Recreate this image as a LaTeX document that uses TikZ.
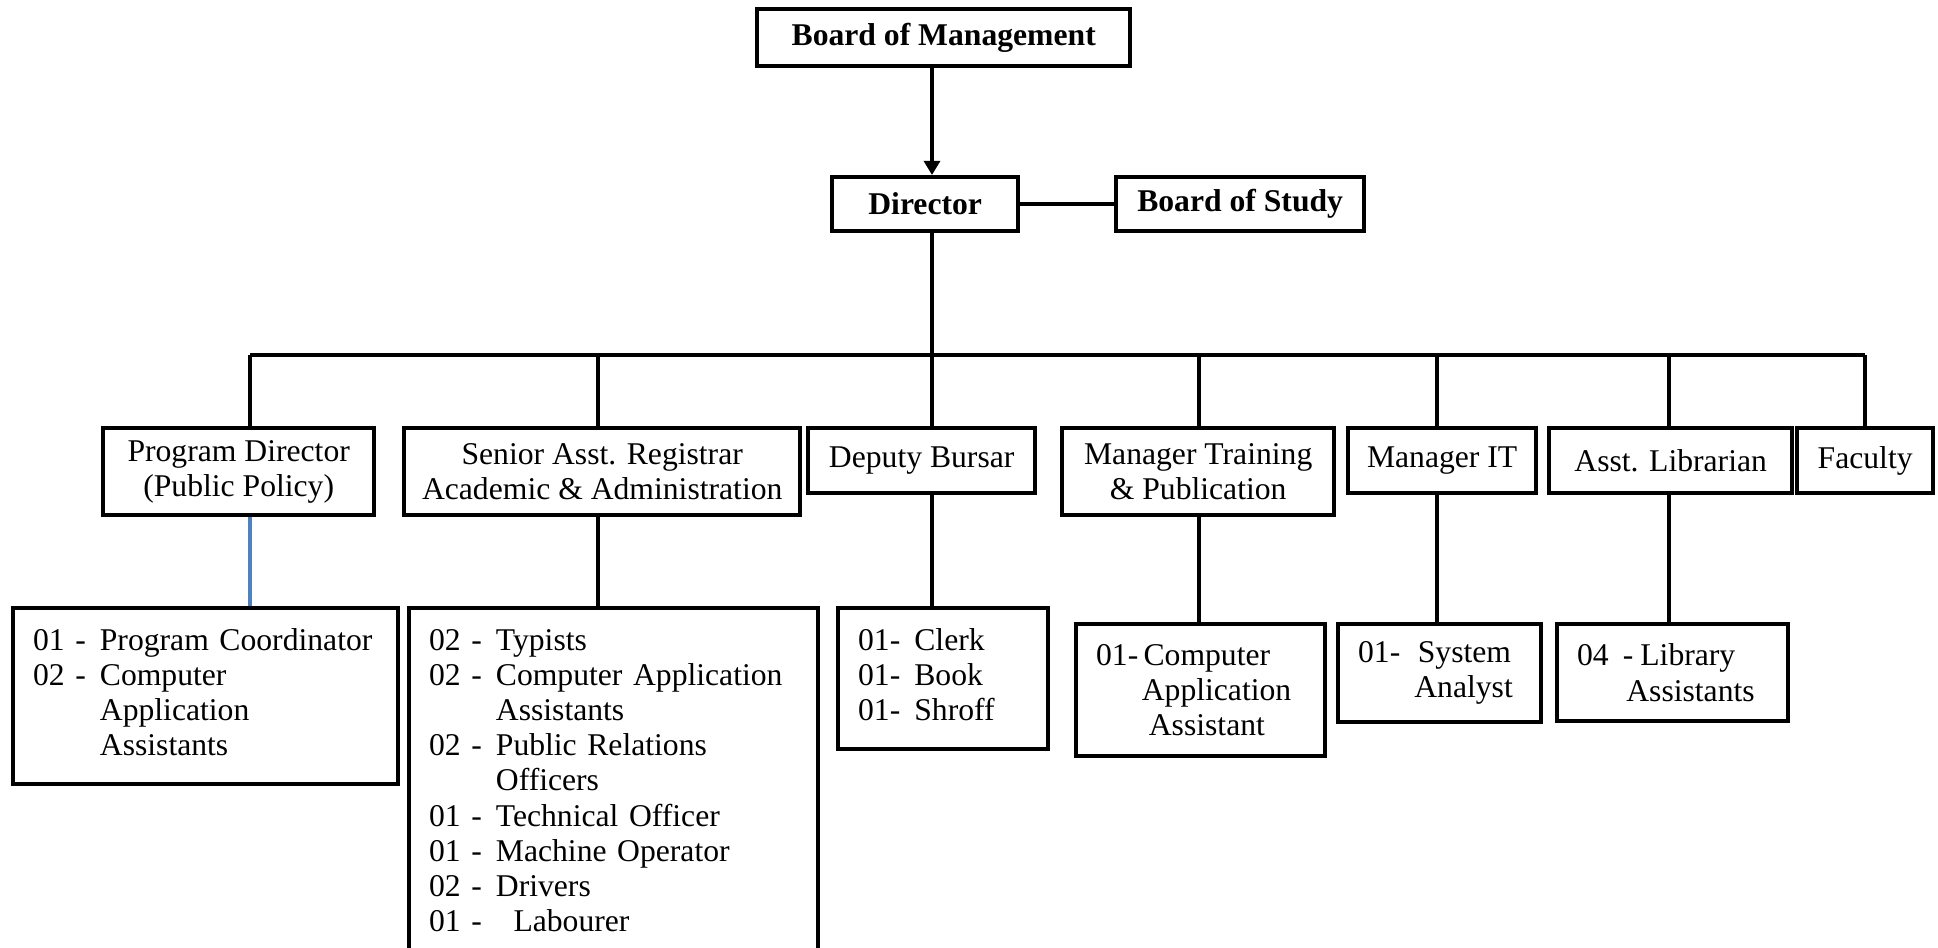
\documentclass[tikz,border=0pt]{standalone}
\usepackage{fontspec}
\setmainfont{Liberation Serif}
\usetikzlibrary{arrows.meta}
\definecolor{linkblue}{RGB}{79,129,189}

\tikzset{
    box/.style={draw, line width=1.2pt, align=center, inner sep=2pt, anchor=north west,
        font=\fontsize{9}{10}\selectfont},
    head/.style={box, font=\fontsize{9}{10}\selectfont\bfseries},
    staff/.style={box, align=left, inner xsep=0.2cm, inner ysep=5pt},
    link/.style={line width=1.2pt},
}

\begin{document}
\begin{tikzpicture}[x=0.01cm, y=-0.01cm]
    \useasboundingbox (0,0) rectangle (1938,947);
    \fill[white] (0,0) rectangle (1938,947);

    % TOP: Board and Director
    \node[head, minimum width=3.73cm, minimum height=0.57cm] (bom) at (755,7) {Board of Management};
    \node[head, minimum width=1.86cm, minimum height=0.54cm] (dir) at (830,175) {Director};
    \node[head, minimum width=2.48cm, minimum height=0.54cm] (bos) at (1114,175) {Board of Study};

    % MIDDLE: Heads of sections
    \node[box, minimum width=2.71cm, minimum height=0.87cm] (pd) at (101,426) {Program Director\\(Public Policy)};
    \node[box, minimum width=3.96cm, minimum height=0.87cm] (sar) at (402,426) {Senior Asst. Registrar\\Academic \& Administration};
    \node[box, minimum width=2.27cm, minimum height=0.65cm] (db) at (806,426) {Deputy Bursar};
    \node[box, minimum width=2.72cm, minimum height=0.87cm] (mtp) at (1060,426) {Manager Training\\\& Publication};
    \node[box, minimum width=1.88cm, minimum height=0.65cm] (mit) at (1346,426) {Manager IT};
    \node[box, minimum width=2.43cm, minimum height=0.65cm] (al) at (1547,426) {Asst. Librarian};
    \node[box, minimum width=1.36cm, minimum height=0.65cm] (fac) at (1795,426) {Faculty};

    % BOTTOM: Staff
    \node[staff, text width=3.45cm, minimum height=1.66cm] (pd-staff) at (11,606) {%
        \begin{tabular}{@{}l@{\hspace{3pt}}l@{\hspace{4pt}}l@{}}
        01 & - & Program Coordinator\\
        02 & - & Computer\\
           &   & Application\\
           &   & Assistants
        \end{tabular}};
    \node[staff, text width=3.69cm] (sar-staff) at (407,606) {%
        \begin{tabular}{@{}l@{\hspace{3pt}}l@{\hspace{4pt}}l@{}}
        02 & - & Typists\\
        02 & - & Computer Application\\
           &   & Assistants\\
        02 & - & Public Relations\\
           &   & Officers\\
        01 & - & Technical Officer\\
        01 & - & Machine Operator\\
        02 & - & Drivers\\
        01 & - & \hspace{5pt}Labourer
        \end{tabular}};
    \node[staff, text width=1.70cm, minimum height=1.34cm] (db-staff) at (836,606) {%
        \begin{tabular}{@{}l@{\hspace{4pt}}l@{}}
        01- & Clerk\\
        01- & Book\\
        01- & Shroff
        \end{tabular}};
    \node[staff, text width=2.09cm, minimum height=1.32cm] (mtp-staff) at (1074,622)
        {01-\,Computer\\\hspace*{13pt}Application\\\hspace*{15pt}Assistant};
    \node[staff, text width=1.63cm, minimum height=0.94cm] (mit-staff) at (1336,622)
        {01-\hspace{5pt}System\\\hspace*{16pt}Analyst};
    \node[staff, text width=1.91cm, minimum height=0.97cm] (al-staff) at (1555,622)
        {04\hspace{4pt}-\hspace{2pt}Library\\\hspace*{14pt}Assistants};

    % connectors
    \coordinate (trunk) at (932,355);
    \coordinate (b1) at (250,355);
    \coordinate (b2) at (598,355);
    \coordinate (b4) at (1199,355);
    \coordinate (b5) at (1437,355);
    \coordinate (b6) at (1669,355);
    \coordinate (b7) at (1865,355);
    \draw[link, -{Triangle[length=4pt,width=4.5pt]}] (bom.south -| trunk) -- (dir.north -| trunk);
    \draw[link] (dir) -- (bos);
    \draw[link] (dir.south -| trunk) -- (trunk);
    \draw[link] (b1) -- (b7);
    \foreach \b/\n in {b1/pd, b2/sar, trunk/db, b4/mtp, b5/mit, b6/al, b7/fac}
        \draw[link] (\b) -- (\b |- \n.north);
    \draw[link, linkblue] (b1 |- pd.south) -- (b1 |- pd-staff.north);
    \foreach \b/\n in {b2/sar, trunk/db, b4/mtp, b5/mit, b6/al}
        \draw[link] (\b |- \n.south) -- (\b |- \n-staff.north);
\end{tikzpicture}
\end{document}
